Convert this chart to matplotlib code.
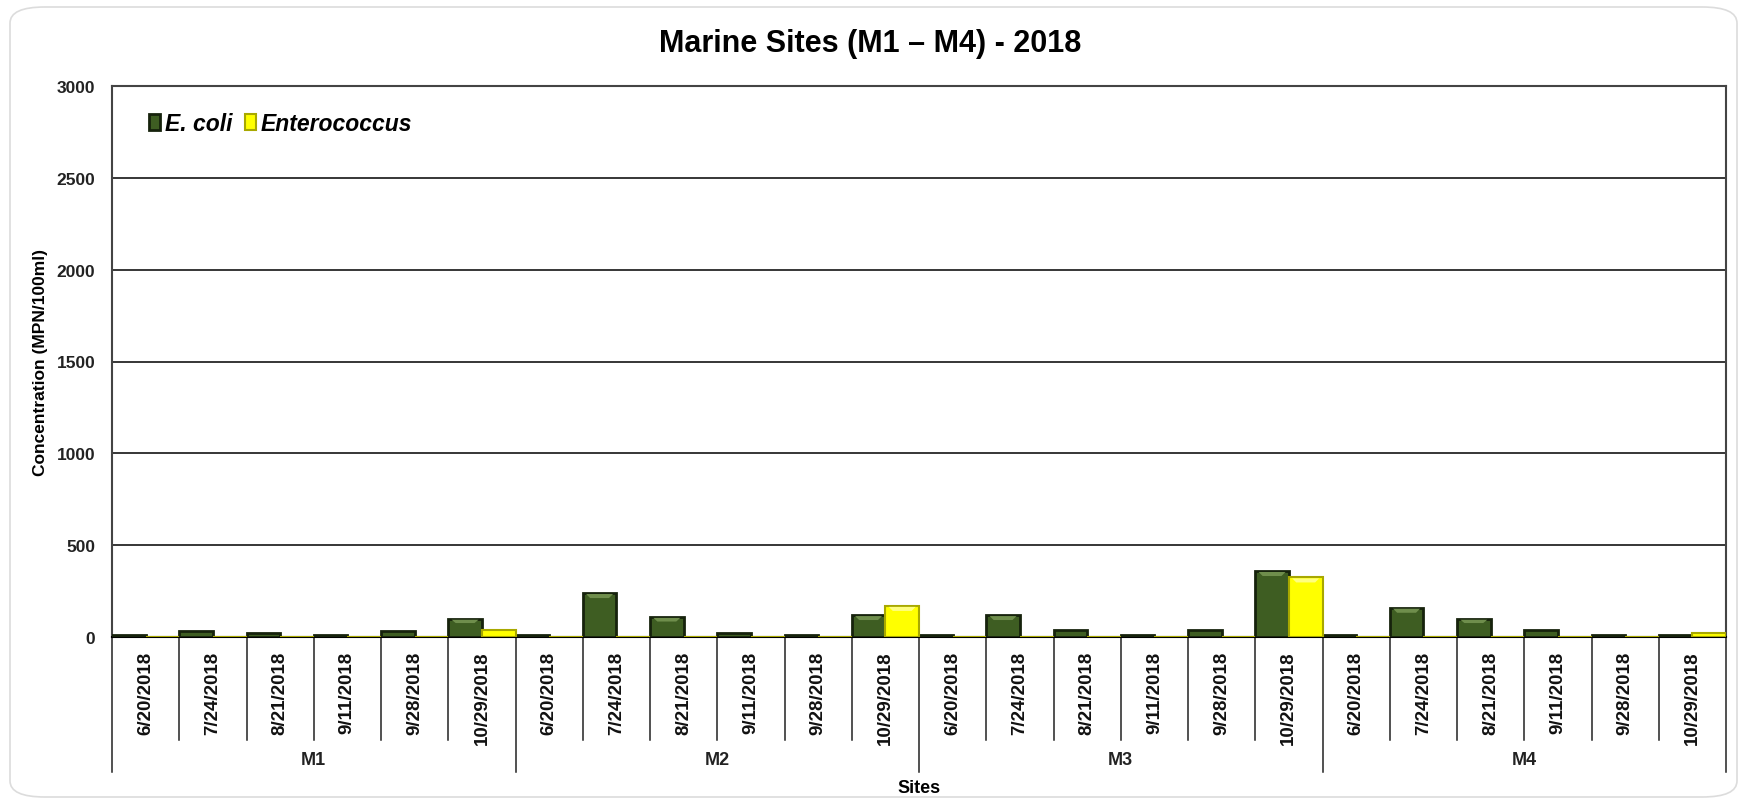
import matplotlib
matplotlib.use("Agg")
import numpy as np
import matplotlib.pyplot as plt
from matplotlib.patches import FancyBboxPatch
from matplotlib.transforms import blended_transform_factory

# data
sites = ["M1", "M2", "M3", "M4"]
dates = ["6/20/2018", "7/24/2018", "8/21/2018", "9/11/2018", "9/28/2018", "10/29/2018"]
ecoli = [10, 30, 20, 10, 30, 100,
         10, 240, 110, 20, 10, 120,
         10, 120, 40, 10, 40, 360,
         10, 160, 100, 40, 10, 10]
entero = [0, 0, 0, 0, 0, 40,
          0, 0, 0, 0, 0, 170,
          0, 0, 0, 0, 0, 325,
          0, 0, 0, 0, 0, 20]
yticks = [0, 500, 1000, 1500, 2000, 2500, 3000]

ECOLI_FACE = "#3e5d22"
ECOLI_EDGE = "#16220c"
ENT_FACE = "#ffff00"
ENT_EDGE = "#a8a800"

NARROW = ["Liberation Sans Narrow", "Liberation Sans", "DejaVu Sans"]
ARIAL = ["Liberation Sans", "DejaVu Sans"]

fig = plt.figure(figsize=(17.41, 8.04), dpi=100)

# light rounded frame around the whole chart
frame = FancyBboxPatch((10 / 1741, 6 / 804), 1727 / 1741, 790 / 804,
                       boxstyle="round,pad=0,rounding_size=0.02",
                       transform=fig.transFigure, facecolor="none",
                       edgecolor="#dcdcdc", linewidth=1.2, zorder=-1)
fig.patches.append(frame)

ax = fig.add_axes([112 / 1741, 1 - 638 / 804, 1614 / 1741, 551 / 804])
ax.set_facecolor("none")

n = len(ecoli)
x = np.arange(n)
ax.bar(x - 0.25, ecoli, width=0.5, color=ECOLI_FACE, edgecolor=ECOLI_EDGE,
       linewidth=2, zorder=3, label="E. coli")
ax.bar(x + 0.25, entero, width=0.5, color=ENT_FACE, edgecolor=ENT_EDGE,
       linewidth=1.5, zorder=3, label="Enterococcus")

# simple bevel highlight on the taller bars
for xs, vals, hl in ((x - 0.25, ecoli, "#6f8e4c"), (x + 0.25, entero, "#ffff80")):
    for xc, v in zip(xs, vals):
        if v >= 60:
            band = min(22, v * 0.18)
            ax.fill([xc - 0.2, xc + 0.2, xc + 0.14, xc - 0.14],
                    [v - 6, v - 6, v - 6 - band, v - 6 - band],
                    color=hl, zorder=4, lw=0)

ax.set_xlim(-0.5, n - 0.5)
ax.set_ylim(0, 3000)
ax.set_yticks(yticks)
ax.set_yticklabels([str(t) for t in yticks], family=NARROW, fontweight="bold",
                   fontsize=12.5, color="#222222")
ax.tick_params(axis="y", length=0, pad=12)
ax.set_xticks([])
ax.yaxis.grid(True, color="black", linewidth=1.1, zorder=1)
ax.set_axisbelow(True)

for side in ("left", "top", "right"):
    ax.spines[side].set_color("#444444")
    ax.spines[side].set_linewidth(1.5)
ax.spines["bottom"].set_color("black")
ax.spines["bottom"].set_linewidth(1.5)

ax.set_ylabel("Concentration (MPN/100ml)", family=ARIAL, fontweight="bold",
              fontsize=12.5, labelpad=6)

# two-level category axis
trans = blended_transform_factory(ax.transData, ax.transAxes)
for i in range(n):
    ax.text(x[i], -0.025, dates[i % len(dates)], rotation=90, ha="center",
            va="top", transform=trans, family=ARIAL, fontweight="bold",
            fontsize=13.5, color="#111111")
for b in np.arange(n + 1) - 0.5:
    grp_edge = int(b + 0.5) % len(dates) == 0
    ax.plot([b, b], [0, -0.245 if grp_edge else -0.187], transform=trans,
            color="#222222", lw=1.1, clip_on=False)
for g, s in enumerate(sites):
    xc = g * len(dates) + (len(dates) - 1) / 2
    ax.text(xc, -0.223, s, ha="center", va="center", transform=trans,
            family=NARROW, fontweight="bold", fontsize=13, color="#222222")

fig.text(919 / 1741, 1 - 789 / 804, "Sites", ha="center", va="center",
         family=NARROW, fontweight="bold", fontsize=13)
fig.text(870 / 1741, 1 - 44 / 804, "Marine Sites (M1 \u2013 M4) - 2018",
         ha="center", va="center", family=ARIAL, fontweight="bold", fontsize=22)

leg = ax.legend(loc="upper left", bbox_to_anchor=(0.01, 0.99), frameon=False,
                ncol=2, handlelength=0.5, handleheight=0.7, handletextpad=0.2,
                columnspacing=0.55,
                prop={"family": ARIAL, "weight": "bold", "style": "italic", "size": 16.5})

fig.savefig("out.png", dpi=100)
